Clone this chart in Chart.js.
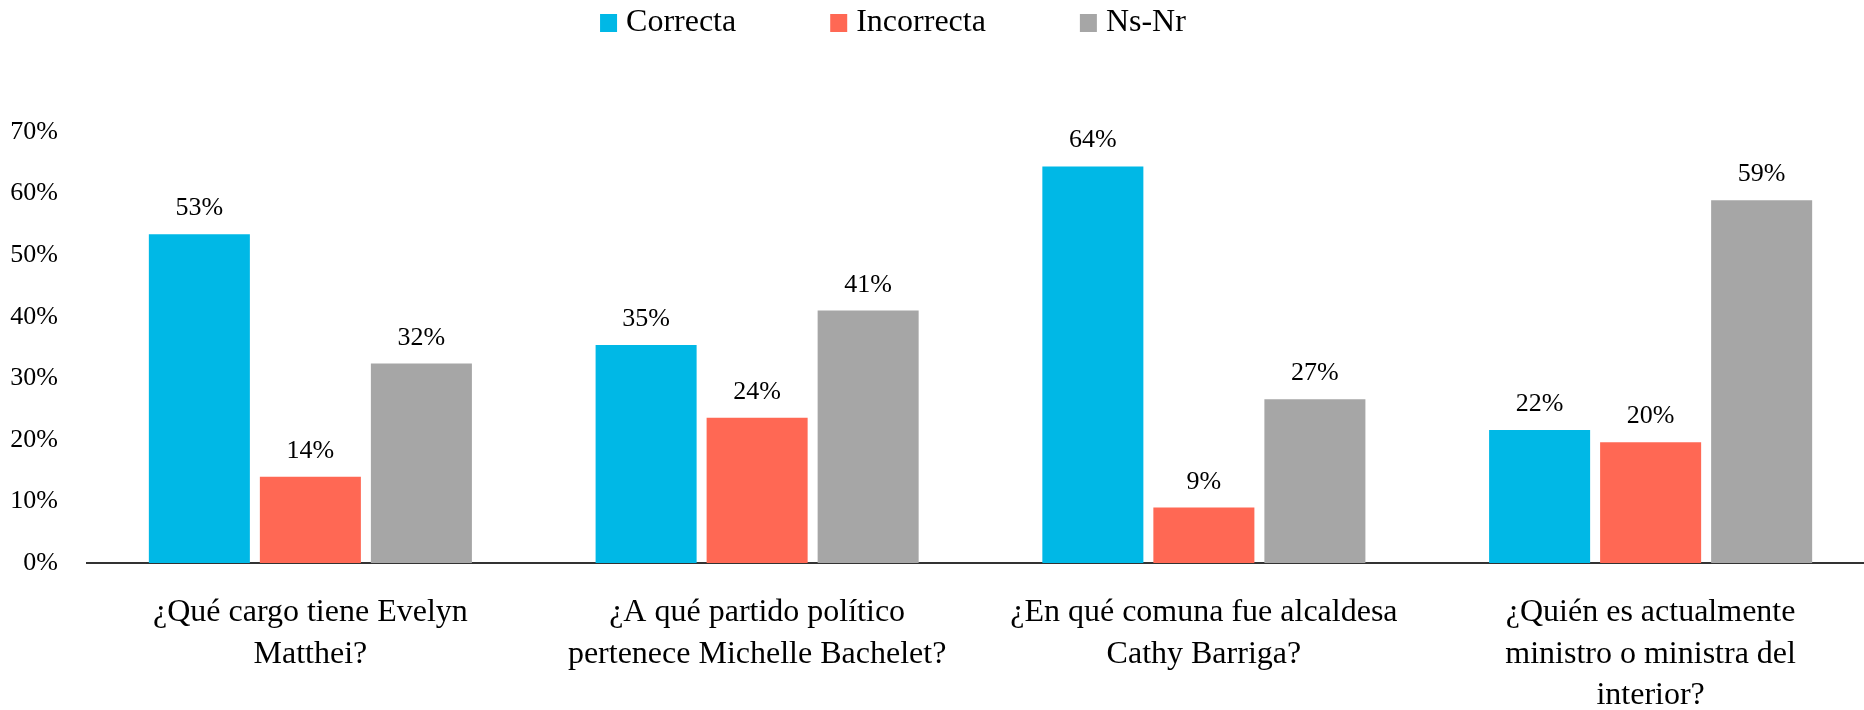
<!DOCTYPE html>
<html lang="es">
  <head>
    <meta charset="utf-8" />
    <title>Conocimiento político</title>
    <style>
      * {
        margin: 0;
        padding: 0;
      }
      body {
        background: white;
        overflow: hidden;
      }
      /* the axis runs a little past the right edge in the original */
      .chartBox {
        width: 1874px;
        height: 710px;
      }
    </style>
  </head>
  <body>
    <div class="chartBox">
      <canvas id="myChart"></canvas>
    </div>

    <script src="https://cdn.jsdelivr.net/npm/chart.js@4.4.1/dist/chart.umd.min.js"></script>

    <script>
      const categories = [
        ["¿Qué cargo tiene Evelyn", "Matthei?"],
        ["¿A qué partido político", "pertenece Michelle Bachelet?"],
        ["¿En qué comuna fue alcaldesa", "Cathy Barriga?"],
        ["¿Quién es actualmente", "ministro o ministra del", "interior?"],
      ];
      const seriesNames = ["Correcta", "Incorrecta", "Ns-Nr"];
      const correcta = [53.4, 35.4, 64.4, 21.6];
      const incorrecta = [14.0, 23.6, 9.0, 19.6];
      const nsnr = [32.4, 41.0, 26.6, 58.9];
      const yTicks = [0, 10, 20, 30, 40, 50, 60, 70];

      const colors = ["#00B8E6", "#FF6854", "#A6A6A6"];
      const serif = "'Liberation Serif', 'Times New Roman', serif";

      Chart.defaults.font.family = serif;
      Chart.defaults.color = "#000";

      const data = {
        labels: categories,
        datasets: [correcta, incorrecta, nsnr].map((values, i) => ({
          label: seriesNames[i],
          data: values,
          backgroundColor: colors[i],
          categoryPercentage: 0.7455,
          barPercentage: 0.91,
        })),
      };

      // value labels above every bar
      const barLabels = {
        id: "barLabels",
        afterDatasetsDraw(chart) {
          const { ctx } = chart;
          ctx.save();
          ctx.font = "26px " + serif;
          ctx.fillStyle = "#000";
          ctx.textAlign = "center";
          ctx.textBaseline = "alphabetic";
          chart.data.datasets.forEach((dataset, i) => {
            chart.getDatasetMeta(i).data.forEach((bar, j) => {
              ctx.fillText(Math.round(dataset.data[j]) + "%", bar.x, bar.y - 19);
            });
          });
          ctx.restore();
        },
      };

      // legend row at the top, wide gaps like the original
      const topLegend = {
        id: "topLegend",
        afterDraw(chart) {
          const { ctx, data } = chart;
          ctx.save();
          ctx.font = "32px " + serif;
          ctx.textBaseline = "alphabetic";
          ctx.textAlign = "left";
          const boxW = 17, boxH = 18, textGap = 9, itemGap = 94;
          const widths = data.datasets.map(
            (d) => boxW + textGap + ctx.measureText(d.label).width
          );
          const total =
            widths.reduce((a, b) => a + b, 0) + itemGap * (widths.length - 1);
          let x = chart.width * 0.4765 - total / 2;
          data.datasets.forEach((d, i) => {
            ctx.fillStyle = d.backgroundColor;
            ctx.fillRect(x, 14, boxW, boxH);
            ctx.fillStyle = "#000";
            ctx.fillText(d.label, x + boxW + textGap, 31);
            x += widths[i] + itemGap;
          });
          ctx.restore();
        },
      };

      const config = {
        type: "bar",
        data: data,
        options: {
          responsive: true,
          maintainAspectRatio: false,
          animation: false,
          layout: {
            padding: { top: 132, right: 0, left: 0, bottom: 0 },
          },
          scales: {
            x: {
              grid: { display: false, drawTicks: false },
              border: { display: true, color: "#333", width: 2 },
              ticks: {
                autoSkip: false,
                maxRotation: 0,
                padding: 29,
                font: { size: 32, lineHeight: 1.3 },
                color: "#000",
              },
              afterFit(scale) {
                scale.height = 147;
              },
            },
            y: {
              min: 0,
              max: 70,
              grid: { display: false, drawTicks: false },
              border: { display: false },
              afterBuildTicks(scale) {
                scale.ticks = yTicks.map((v) => ({ value: v }));
              },
              ticks: {
                padding: 29,
                font: { size: 26 },
                color: "#000",
                callback: (v) => v + "%",
              },
              afterFit(scale) {
                scale.width = 87;
              },
            },
          },
          plugins: {
            legend: { display: false },
            tooltip: { enabled: false },
          },
        },
        plugins: [barLabels, topLegend],
      };

      const myChart = new Chart(document.getElementById("myChart"), config);
    </script>
  </body>
</html>
